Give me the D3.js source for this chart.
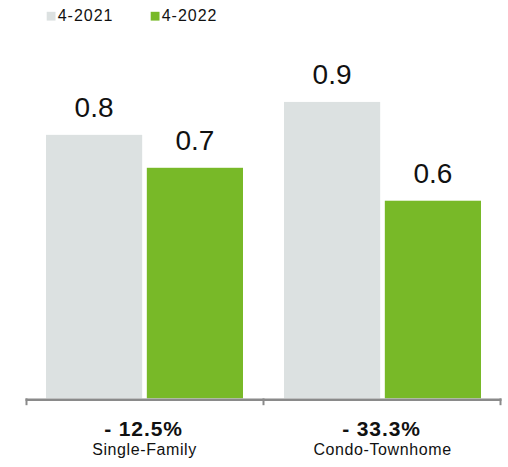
<!DOCTYPE html>
<html>
<head>
<meta charset="utf-8">
<script src="https://cdn.jsdelivr.net/npm/d3@7/dist/d3.min.js"></script>
<style>
  html, body { margin: 0; padding: 0; background: #fff; }
  svg { display: block; font-family: "Liberation Sans", Arial, Helvetica, sans-serif; }
</style>
</head>
<body>
<svg id="chart" width="508" height="467"></svg>
<script>
// Months supply of inventory, April 2021 vs April 2022
const categories = ["Single-Family", "Condo-Townhome"];
const series = ["4-2021", "4-2022"];
const values2021 = [0.8, 0.9];
const values2022 = [0.7, 0.6];
const changeLabels = ["- 12.5%", "- 33.3%"];
const seriesColors = ["#dce1e1", "#78b928"];

const svg = d3.select("#chart");

const baseY = 398.3;
const x0 = d3.scaleBand().domain(categories).range([25.5, 501.5]).padding(0);
const x1 = d3.scaleBand().domain(series).range([20.5, 217.5]).paddingInner(0.046).paddingOuter(0);
const y = d3.scaleLinear().domain([0, 1.2]).range([baseY, baseY - 329.3 * 1.2]);
const color = d3.scaleOrdinal().domain(series).range(seriesColors);

const rows = categories.map((c, i) => ({
  category: c,
  change: changeLabels[i],
  items: [
    { key: series[0], value: values2021[i] },
    { key: series[1], value: values2022[i] }
  ]
}));

// Bars and value labels
const groups = svg.selectAll("g.cat").data(rows).join("g")
  .attr("class", "cat")
  .attr("transform", d => `translate(${x0(d.category)},0)`);

groups.selectAll("rect").data(d => d.items).join("rect")
  .attr("x", d => x1(d.key))
  .attr("width", x1.bandwidth())
  .attr("y", d => y(d.value))
  .attr("height", d => baseY - y(d.value))
  .attr("fill", d => color(d.key));

groups.selectAll("text.val").data(d => d.items).join("text")
  .attr("class", "val")
  .attr("x", d => x1(d.key) + x1.bandwidth() / 2)
  .attr("y", d => y(d.value) - 18)
  .attr("text-anchor", "middle")
  .attr("font-size", 28)
  .attr("fill", "#111")
  .text(d => d.value.toFixed(1));

// Category axis: a base line with bracket ticks at the band edges
const tickXs = [x0.range()[0], x0(categories[1]), x0.range()[1]];
const axisG = svg.append("g").attr("transform", `translate(0,${baseY + 1.4})`);
axisG.append("line")
  .attr("x1", tickXs[0]).attr("x2", tickXs[2])
  .attr("y1", 0).attr("y2", 0)
  .attr("stroke", "#8a8a8a").attr("stroke-width", 2.6);
axisG.selectAll("line.tk").data(tickXs).join("line")
  .attr("class", "tk")
  .attr("x1", (d, i) => i === 0 ? d + 1 : i === 2 ? d - 1 : d)
  .attr("x2", (d, i) => i === 0 ? d + 1 : i === 2 ? d - 1 : d)
  .attr("y1", -1.3).attr("y2", 5.5)
  .attr("stroke", "#8a8a8a").attr("stroke-width", 2);

// Percent change and category labels
const labels = svg.selectAll("g.lab").data(rows).join("g")
  .attr("class", "lab")
  .attr("transform", d => `translate(${x0(d.category) + x0.bandwidth() / 2},0)`);

labels.append("text")
  .attr("x", -1)
  .attr("y", 436)
  .attr("text-anchor", "middle")
  .attr("font-size", 21)
  .attr("font-weight", "bold")
  .attr("letter-spacing", 0.9)
  .attr("fill", "#111")
  .text(d => d.change);

labels.append("text")
  .attr("x", 0)
  .attr("y", 455)
  .attr("text-anchor", "middle")
  .attr("font-size", 16)
  .attr("letter-spacing", 0.6)
  .attr("fill", "#111")
  .text(d => d.category);

// Legend
const legendX = [46.7, 150.7];
const legend = svg.selectAll("g.leg").data(series).join("g")
  .attr("class", "leg")
  .attr("transform", (d, i) => `translate(${legendX[i]},0)`);
legend.append("rect")
  .attr("x", 0).attr("y", 11.8)
  .attr("width", 8.8).attr("height", 8.8)
  .attr("fill", d => color(d));
legend.append("text")
  .attr("x", 11)
  .attr("y", 20.7)
  .attr("font-size", 16)
  .attr("letter-spacing", 1)
  .attr("fill", "#111")
  .text(d => d);
</script>
</body>
</html>
